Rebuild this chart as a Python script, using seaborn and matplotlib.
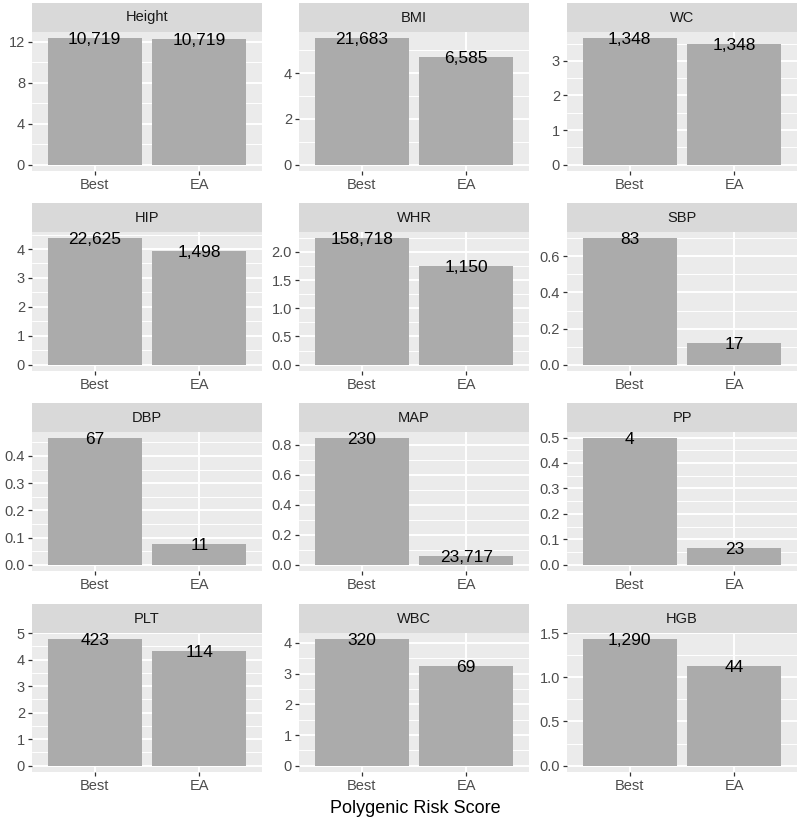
import matplotlib
matplotlib.use('Agg')
import matplotlib.pyplot as plt
import seaborn as sns
import pandas as pd
from matplotlib.ticker import MultipleLocator, FormatStrFormatter

# ---- data ----
traits = ['Height', 'BMI', 'WC', 'HIP', 'WHR', 'SBP',
          'DBP', 'MAP', 'PP', 'PLT', 'WBC', 'HGB']
scores = ['Best', 'EA']
best_vals = [12.35, 5.52, 3.65, 4.37, 2.24, 0.70, 0.465, 0.842, 0.497, 4.77, 4.12, 1.43]
ea_vals = [12.26, 4.71, 3.475, 3.94, 1.75, 0.122, 0.077, 0.06, 0.064, 4.32, 3.25, 1.125]
best_n = [10719, 21683, 1348, 22625, 158718, 83, 67, 230, 4, 423, 320, 1290]
ea_n = [10719, 6585, 1348, 1498, 1150, 17, 11, 23717, 23, 114, 69, 44]
tick_step = [4, 2, 1, 1, 0.5, 0.2, 0.1, 0.2, 0.1, 1, 1, 0.5]

rows = []
for t, b, e, nb, ne in zip(traits, best_vals, ea_vals, best_n, ea_n):
    rows.append(dict(trait=t, score='Best', value=b, n=nb))
    rows.append(dict(trait=t, score='EA', value=e, n=ne))
df = pd.DataFrame(rows)

# ---- style ----
sns.set_theme(style='darkgrid')
plt.rcParams['font.family'] = ['Liberation Sans', 'DejaVu Sans']

W, H = 800, 822
fig = plt.figure(figsize=(W / 100, H / 100), dpi=100)
fig.patch.set_facecolor('white')

lefts = [32, 299, 567]
pw = 230
strip_tops = [3, 203, 403, 604]
sh = 29
ph = 139

bar_color = '#ABABAB'
panel_bg = '#EBEBEB'
strip_bg = '#D9D9D9'

for i, t in enumerate(traits):
    r, c = divmod(i, 3)
    x0 = lefts[c]
    ytop = strip_tops[r]
    # strip
    sax = fig.add_axes([x0 / W, 1 - (ytop + sh) / H, pw / W, sh / H])
    sax.set_facecolor(strip_bg)
    sax.set_xticks([]); sax.set_yticks([])
    for s in sax.spines.values():
        s.set_visible(False)
    sax.text(0.5, 0.5, t, ha='center', va='center', fontsize=10.5,
             color='#1A1A1A', transform=sax.transAxes)
    # panel
    ax = fig.add_axes([x0 / W, 1 - (ytop + sh + ph) / H, pw / W, ph / H])
    sub = df[df.trait == t]
    sns.barplot(data=sub, x='score', y='value', order=scores, ax=ax,
                color=bar_color, saturation=1, width=0.9, errorbar=None,
                edgecolor='none')
    ax.set_facecolor(panel_bg)
    for s in ax.spines.values():
        s.set_visible(False)
    ymax = sub.value.max()
    ax.set_ylim(-0.05 * ymax, 1.05 * ymax)
    ax.set_xlim(-0.6, 1.6)
    step = tick_step[i]
    ax.yaxis.set_major_locator(MultipleLocator(step))
    ax.yaxis.set_minor_locator(MultipleLocator(step / 2))
    dec = 0 if float(step).is_integer() else 1
    ax.yaxis.set_major_formatter(FormatStrFormatter('%.' + str(dec) + 'f'))
    ax.grid(which='major', axis='both', color='white', lw=1.4)
    ax.grid(which='minor', axis='y', color='white', lw=0.7)
    ax.grid(which='minor', axis='x', visible=False)
    ax.set_axisbelow(True)
    ax.tick_params(axis='both', which='major', length=3, width=0.9,
                   color='#333333', labelsize=10.5, labelcolor='#4D4D4D', pad=2,
                   bottom=True, left=True)
    ax.tick_params(axis='both', which='minor', length=0)
    ax.set_xlabel('')
    ax.set_ylabel('')
    for j, sc in enumerate(scores):
        row = sub[sub.score == sc].iloc[0]
        ax.text(j, row.value, f"{int(row.n):,}", ha='center',
                va='center_baseline', fontsize=12.5, color='black')

fig.text(415 / W, 1 - 808 / H, 'Polygenic Risk Score', ha='center',
         va='center', fontsize=13, color='black')

fig.savefig('out.png', dpi=100, facecolor='white')
